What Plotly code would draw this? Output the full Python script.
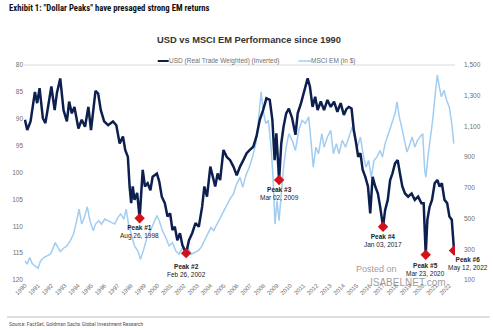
import plotly.graph_objects as go
from datetime import datetime, timedelta

# ---- data -------------------------------------------------------------
# USD real trade weighted index (plotted inverted), time in decimal years
usd_t = [1990.00, 1990.17, 1990.42, 1990.75, 1990.92, 1991.10, 1991.35, 1991.54, 1991.74, 1991.99,
         1992.24, 1992.41, 1992.66, 1992.91, 1993.16, 1993.33, 1993.53, 1993.73, 1994.03, 1994.28,
         1994.53, 1994.78, 1994.98, 1995.15, 1995.32, 1995.52, 1995.72, 1995.97, 1996.27, 1996.64,
         1996.89, 1997.14, 1997.39, 1997.56, 1997.76, 1997.89, 1998.01, 1998.13, 1998.26, 1998.46,
         1998.88, 1999.05, 1999.25, 1999.46, 1999.63, 1999.95, 2000.13, 2000.32, 2000.55, 2000.75,
         2000.95, 2001.12, 2001.30, 2001.49, 2001.69, 2001.87, 2002.37, 2002.61, 2002.86, 2003.11,
         2003.36, 2003.53, 2003.73, 2003.98, 2004.18, 2004.35, 2004.53, 2004.72, 2004.97, 2005.22,
         2005.47, 2005.72, 2005.97, 2006.22, 2006.47, 2006.72, 2006.96, 2007.22, 2007.46, 2007.71,
         2007.96, 2008.21, 2008.46, 2008.66, 2008.83, 2008.96, 2009.33, 2009.50, 2009.70, 2009.90,
         2010.15, 2010.40, 2010.57, 2010.82, 2011.07, 2011.32, 2011.49, 2011.69, 2011.89, 2012.07,
         2012.31, 2012.56, 2012.81, 2013.06, 2013.31, 2013.56, 2013.81, 2014.05, 2014.25, 2014.43,
         2014.63, 2014.80, 2014.98, 2015.13, 2015.30, 2015.47, 2015.67, 2015.87, 2016.04, 2016.22,
         2016.42, 2016.62, 2016.79, 2017.16, 2017.36, 2017.54, 2017.71, 2017.91, 2018.11, 2018.28,
         2018.46, 2018.66, 2018.90, 2019.16, 2019.40, 2019.65, 2019.90, 2020.07, 2020.35, 2020.52,
         2020.70, 2020.90, 2021.10, 2021.27, 2021.44, 2021.64, 2021.84, 2022.01, 2022.19]
usd_v = [90.2, 92.1, 90.5, 85.0, 87.1, 84.3, 89.9, 90.8, 87.8, 84.0,
         88.4, 85.2, 82.5, 88.4, 90.5, 86.8, 89.0, 87.8, 91.8, 90.2,
         91.5, 87.8, 92.1, 88.4, 84.8, 85.3, 88.4, 90.5, 91.2, 90.5,
         91.2, 94.6, 93.3, 95.8, 97.1, 102.6, 105.7, 102.6, 105.1, 103.8,
         99.5, 102.6, 102.0, 103.3, 100.8, 100.2, 101.7, 104.5, 105.7, 108.2,
         107.6, 110.7, 110.1, 112.6, 111.3, 113.5, 112.6, 111.3, 109.4, 110.1,
         106.4, 102.6, 104.5, 98.9, 100.8, 102.6, 100.2, 101.4, 95.8, 97.1,
         97.7, 98.9, 100.5, 98.9, 97.7, 96.4, 95.8, 95.2, 93.3, 90.2,
         88.4, 86.2, 86.5, 90.2, 97.7, 92.7, 94.6, 91.5, 89.0, 88.1,
         89.9, 93.0, 89.0, 87.1, 85.0, 82.5, 84.0, 87.8, 85.9, 88.4,
         86.8, 88.4, 86.5, 87.8, 86.8, 88.7, 87.1, 89.3, 88.2, 87.8,
         88.1, 92.1, 94.6, 97.1, 96.4, 99.5, 100.8, 102.6, 107.6, 100.8,
         102.6, 103.9, 106.4, 107.0, 105.1, 101.4, 100.2, 98.3, 97.7, 100.2,
         102.6, 103.9, 104.5, 103.9, 105.1, 104.5, 105.7, 105.7, 108.8, 106.4,
         105.1, 102.0, 101.4, 102.6, 102.0, 105.1, 105.7, 108.2, 108.8]

# MSCI EM index level (in $), time in decimal years
msci_t = [1990.00, 1990.17, 1990.35, 1990.55, 1990.75, 1990.99, 1991.17, 1991.42, 1991.66, 1991.92,
          1992.09, 1992.29, 1992.49, 1992.66, 1992.91, 1993.16, 1993.41, 1993.66, 1993.90, 1994.08,
          1994.28, 1994.48, 1994.70, 1994.90, 1995.15, 1995.32, 1995.57, 1995.77, 1996.02, 1996.27,
          1996.51, 1996.77, 1997.01, 1997.22, 1997.46, 1997.63, 1997.81, 1998.00, 1998.26, 1998.51,
          1998.71, 1998.96, 1999.20, 1999.46, 1999.70, 1999.95, 2000.13, 2000.37, 2000.62, 2000.87,
          2001.12, 2001.37, 2001.62, 2001.87, 2002.11, 2002.29, 2002.54, 2002.78, 2003.04, 2003.28,
          2003.53, 2003.78, 2004.03, 2004.23, 2004.48, 2004.72, 2004.97, 2005.22, 2005.47, 2005.72,
          2005.97, 2006.22, 2006.42, 2006.66, 2006.92, 2007.16, 2007.41, 2007.61, 2007.81, 2007.96,
          2008.16, 2008.36, 2008.56, 2008.71, 2008.86, 2009.01, 2009.16, 2009.33, 2009.50, 2009.70,
          2009.90, 2010.15, 2010.40, 2010.65, 2010.90, 2011.14, 2011.40, 2011.59, 2011.74, 2011.94,
          2012.14, 2012.39, 2012.56, 2012.81, 2013.06, 2013.26, 2013.49, 2013.68, 2013.93, 2014.18,
          2014.43, 2014.68, 2014.87, 2015.07, 2015.30, 2015.54, 2015.72, 2015.92, 2016.12, 2016.32,
          2016.54, 2016.79, 2016.96, 2017.16, 2017.41, 2017.66, 2017.91, 2018.06, 2018.23, 2018.41,
          2018.60, 2018.81, 2019.00, 2019.20, 2019.40, 2019.60, 2019.80, 2020.00, 2020.15, 2020.24,
          2020.39, 2020.57, 2020.75, 2020.95, 2021.10, 2021.25, 2021.40, 2021.60, 2021.80, 2022.00,
          2022.19, 2022.34]
msci_v = [224, 203, 246, 207, 192, 177, 224, 246, 257, 268,
          301, 344, 311, 285, 307, 322, 355, 399, 486, 562,
          464, 508, 578, 486, 421, 464, 486, 464, 497, 486,
          475, 464, 508, 530, 497, 562, 464, 399, 322, 290,
          235, 301, 377, 421, 464, 519, 486, 421, 377, 322,
          344, 290, 268, 311, 279, 311, 268, 279, 290, 311,
          355, 399, 442, 421, 464, 508, 551, 595, 628, 661,
          726, 769, 704, 780, 835, 900, 988, 1140, 1325, 1206,
          1119, 1140, 965, 769, 464, 617, 486, 661, 835, 965,
          1053, 1009, 944, 1075, 1140, 1119, 1162, 988, 835, 965,
          922, 1053, 965, 1031, 1075, 922, 988, 922, 1009, 965,
          1031, 1096, 1031, 965, 1031, 900, 835, 878, 769, 878,
          900, 944, 900, 988, 1053, 1119, 1184, 1260, 1162, 1096,
          1009, 933, 977, 1031, 965, 1009, 1031, 1053, 813, 769,
          900, 1009, 1140, 1315, 1435, 1358, 1293, 1336, 1271, 1227,
          1119, 988]

# Dollar peaks (USD index level on those dates)
peak_names = ["Peak #1", "Peak #2", "Peak #3", "Peak #4", "Peak #5", "Peak #6"]
peak_dates = ["1998-08-26", "2002-02-26", "2009-03-02", "2017-01-03", "2020-03-23", "2022-05-12"]
peak_labels = ["Aug 26, 1998", "Feb 26, 2002", "Mar 02, 2009", "Jan 03, 2017", "Mar 23, 2020", "May 12, 2022"]
peak_values = [108.5, 115.0, 101.4, 110.1, 115.3, 114.5]

usd_ticks = [80, 85, 90, 95, 100, 105, 110, 115, 120]
msci_ticks = [100, 300, 500, 700, 900, 1100, 1300, 1500]


def to_date(t):
    y = int(t)
    return datetime(y, 1, 1) + timedelta(days=(t - y) * 365.25)


# USD line passes through the peak points
usd_pts = [(to_date(t), v) for t, v in zip(usd_t, usd_v)]
usd_pts += [(datetime.strptime(d, "%Y-%m-%d"), v) for d, v in zip(peak_dates, peak_values)]
usd_pts.sort(key=lambda p: p[0])
usd_x = [p[0] for p in usd_pts]
usd_y = [p[1] for p in usd_pts]
msci_x = [to_date(t) for t in msci_t]

# ---- layout geometry (pixels) ------------------------------------------
W, H = 493, 330
L, R, T, B = 20, 38, 65, 50
PW, PH = W - L - R, H - T - B


def px(x, y):
    """pixel position -> paper coordinates"""
    return (x - L) / PW, (H - B - y) / PH


NAVY = "#0c1f4e"
LIGHT = "#a2cdf1"
RED = "#d0121b"
GREY = "#6f6f6f"
FONT = "Liberation Sans, Arial, sans-serif"
NARROW = ("Liberation Sans Narrow, Arial Narrow, Roboto Condensed, Noto Sans Condensed, "
          "Open Sans Condensed, DejaVu Sans Condensed, Liberation Sans, sans-serif")

fig = go.Figure()
fig.add_trace(go.Scatter(x=msci_x, y=msci_v, mode="lines", yaxis="y",
                         line=dict(color=LIGHT, width=1.5), name="MSCI EM (in $)"))
fig.add_trace(go.Scatter(x=usd_x, y=usd_y, mode="lines", yaxis="y2",
                         line=dict(color=NAVY, width=2.5), name="USD (Real Trade Weighted) (Inverted)"))
fig.add_trace(go.Scatter(x=peak_dates, y=peak_values, mode="markers", yaxis="y2",
                         marker=dict(symbol="diamond", size=8, color=RED), name="Peaks"))

annotations = []
shapes = []

# peak labels
label_dy = [-4, -8, -4, -4, -5, -4]
label_dx = [0, 0, 0, 0, 0, 14]
for name, d, lab, v, dy, dx in zip(peak_names, peak_dates, peak_labels, peak_values, label_dy, label_dx):
    annotations.append(dict(x=d, y=v, xref="x", yref="y2", yanchor="top", xanchor="center",
                            yshift=dy, xshift=dx, showarrow=False, align="center",
                            text=f"<b>{name}</b><br>{lab}",
                            font=dict(family=FONT, size=6.5, color="#222")))

# titles
x0, y0 = px(3, 8)
annotations.append(dict(x=x0, y=y0, xref="paper", yref="paper", xanchor="left", yanchor="middle",
                        showarrow=False, text="<b>Exhibit 1: \"Dollar Peaks\" have presaged strong EM returns</b>",
                        font=dict(family=NARROW, size=8.7, color="#111")))
x0, y0 = px(247, 40)
annotations.append(dict(x=x0, y=y0, xref="paper", yref="paper", xanchor="center", yanchor="middle",
                        showarrow=False, text="<b>USD vs MSCI EM Performance since 1990</b>",
                        font=dict(family=FONT, size=9.3, color="#333")))

# legend
for (xa, xb, xt, color, width, text) in [
        (155, 166, 164, NAVY, 2, "USD (Real Trade Weighted) (Inverted)"),
        (297, 310, 308, LIGHT, 1.5, "MSCI EM (in $)")]:
    pa, py_ = px(xa, 61)
    pb, _ = px(xb, 61)
    shapes.append(dict(type="line", xref="paper", yref="paper", x0=pa, x1=pb, y0=py_, y1=py_,
                       line=dict(color=color, width=width)))
    pt, _ = px(xt, 61)
    annotations.append(dict(x=pt, y=py_, xref="paper", yref="paper", xanchor="left", yanchor="middle",
                            showarrow=False, text=text, font=dict(family=FONT, size=6.5, color=GREY)))

# top gridline
shapes.append(dict(type="line", xref="paper", yref="paper", x0=0, x1=1, y0=1, y1=1,
                   line=dict(color="#d9d9d9", width=1)))
# bottom rule and source
a, yb = px(3, 317)
b, _ = px(490, 317)
shapes.append(dict(type="line", xref="paper", yref="paper", x0=a, x1=b, y0=yb, y1=yb,
                   line=dict(color="#bdbdbd", width=1)))
x0, y0 = px(3, 324)
annotations.append(dict(x=x0, y=y0, xref="paper", yref="paper", xanchor="left", yanchor="middle",
                        showarrow=False, text="Source: FactSet, Goldman Sachs Global Investment Research",
                        font=dict(family=NARROW, size=5.6, color="#555")))

# site credit
x0, y0 = px(376, 269)
annotations.append(dict(x=x0, y=y0, xref="paper", yref="paper", xanchor="center", yanchor="middle",
                        showarrow=False, text="Posted on",
                        font=dict(family=FONT, size=9, color="rgba(120,120,120,0.75)")))
x0, y0 = px(408, 282)
annotations.append(dict(x=x0, y=y0, xref="paper", yref="paper", xanchor="center", yanchor="middle",
                        showarrow=False, text="ISABELNET.com",
                        font=dict(family=FONT, size=10, color="rgba(120,120,120,0.75)")))

fig.update_layout(
    width=W, height=H,
    margin=dict(l=L, r=R, t=T, b=B, pad=0),
    paper_bgcolor="white", plot_bgcolor="white",
    showlegend=False,
    font=dict(family=FONT, size=7, color=GREY),
    xaxis=dict(type="date", range=["1989-12-05", "2022-06-08"],
               tick0="1990-01-01", dtick="M12", tickformat="%Y", tickangle=-45,
               showgrid=False, zeroline=False, showline=False, ticks="",
               tickfont=dict(family=FONT, size=6, color=GREY)),
    yaxis=dict(side="right", range=[100, 1500], tickvals=msci_ticks, tickformat=",",
               showgrid=False, zeroline=False, showline=False, ticks="",
               ticklabelstandoff=8, tickfont=dict(family=FONT, size=6.5, color=GREY)),
    yaxis2=dict(side="left", overlaying="y", range=[120, 80], tickvals=usd_ticks,
                showgrid=False, zeroline=False, showline=False, ticks="",
                tickfont=dict(family=FONT, size=6.5, color=GREY)),
    annotations=annotations,
    shapes=shapes,
)

fig.write_html("out.html")
